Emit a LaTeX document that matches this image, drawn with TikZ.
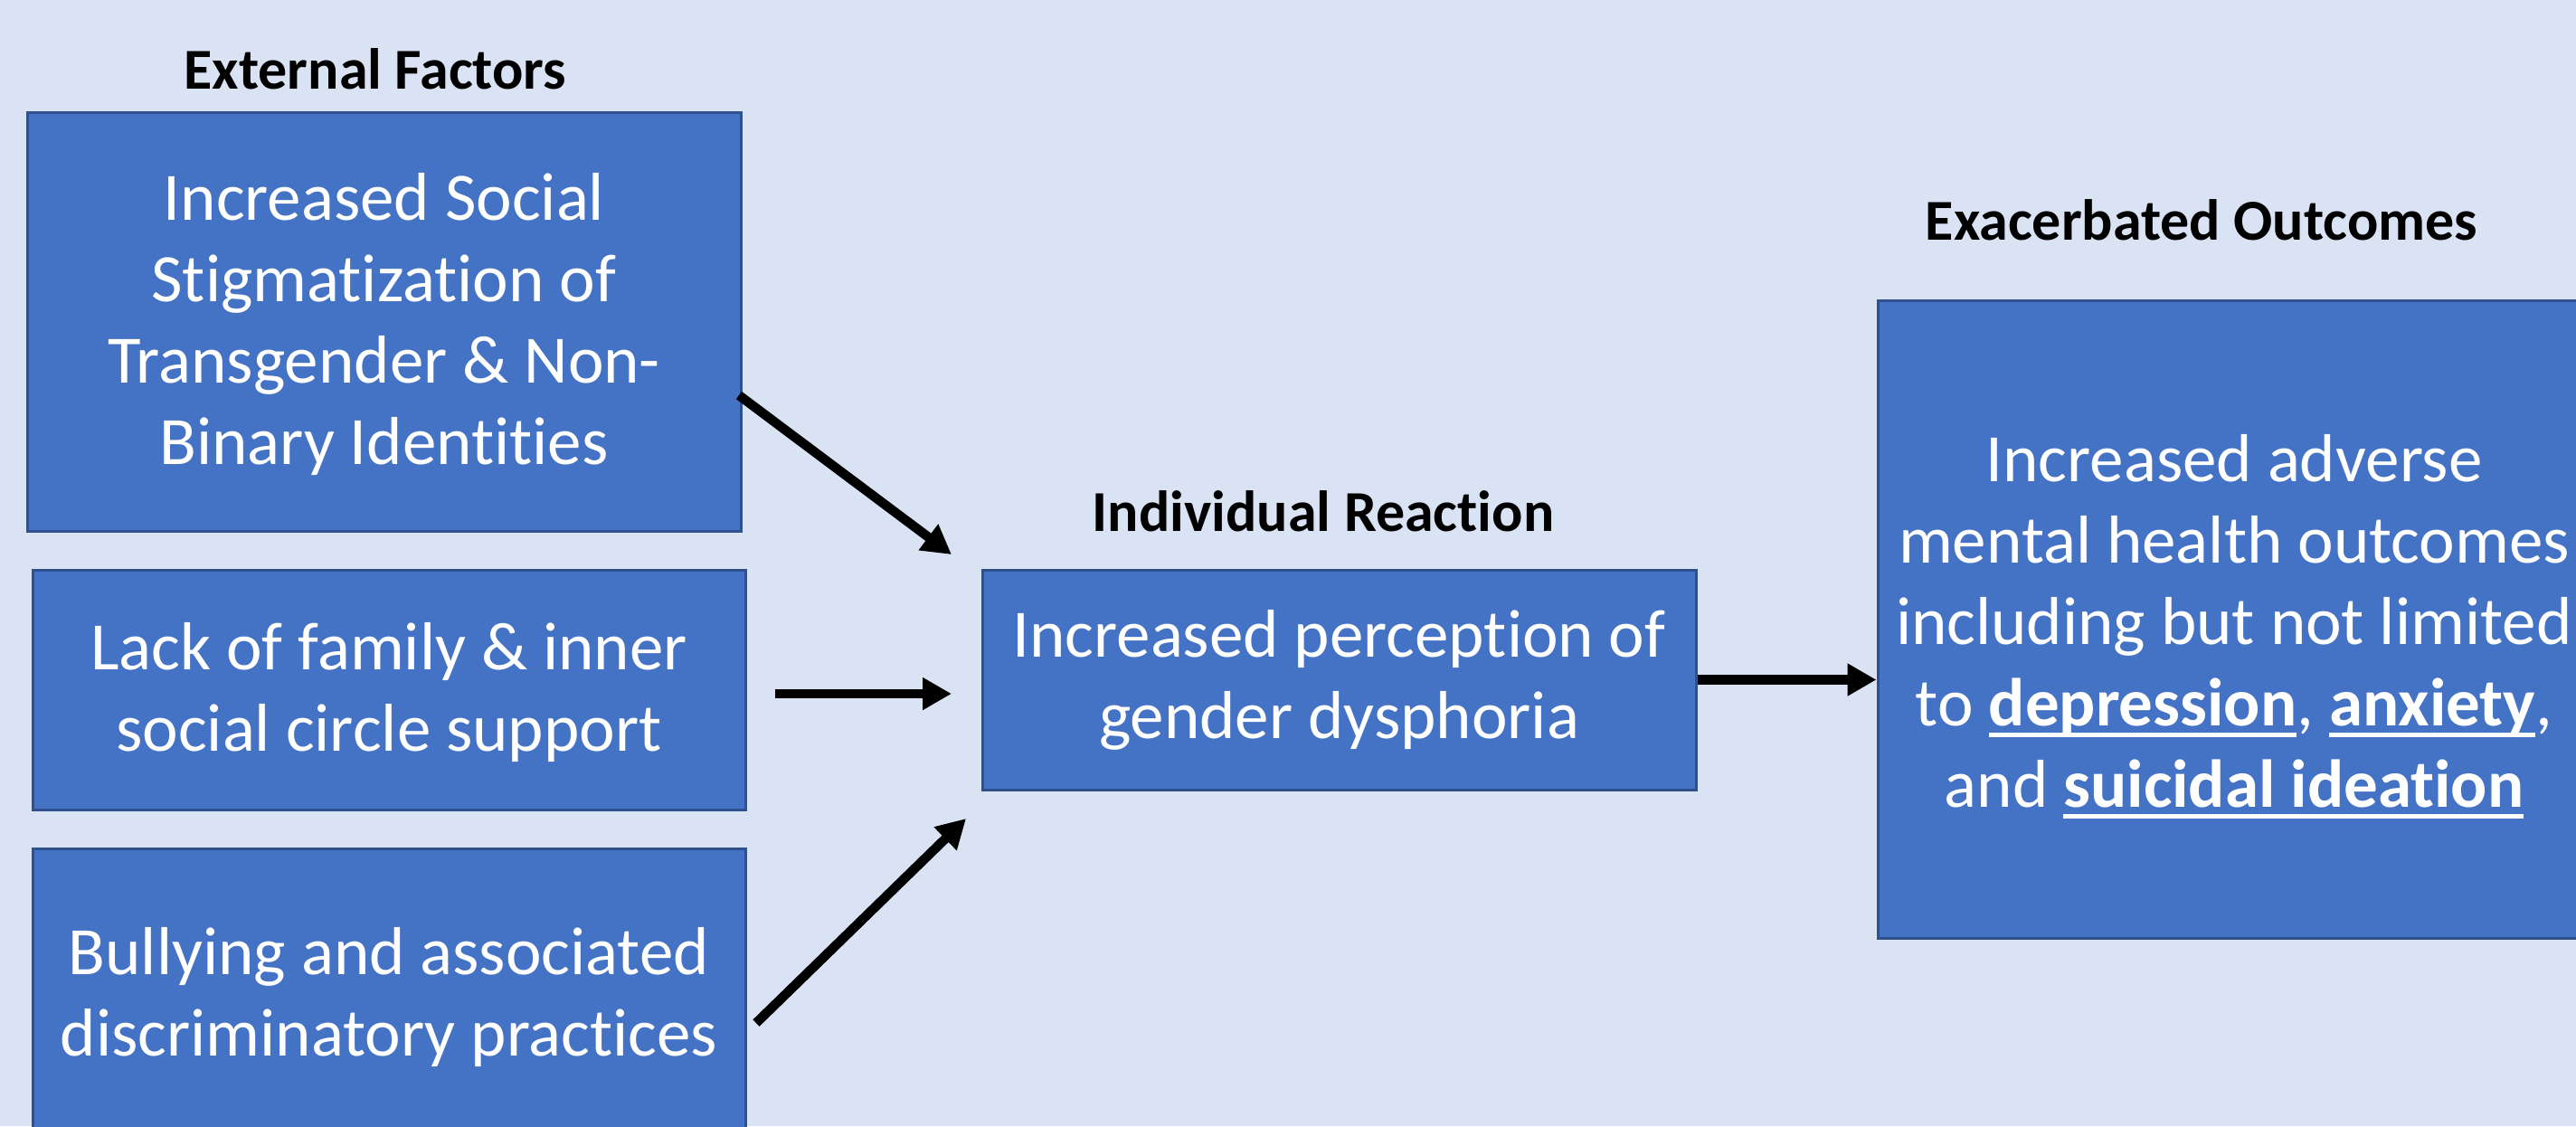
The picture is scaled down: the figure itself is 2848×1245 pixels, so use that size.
\documentclass[tikz,border=0pt]{standalone}
\usepackage{fontspec}
\setmainfont{Carlito}[Ligatures={NoCommon,NoRare}]
\usetikzlibrary{arrows.meta}
\definecolor{bgblue}{HTML}{DAE3F3}
\definecolor{boxblue}{HTML}{4472C4}
\definecolor{boxline}{HTML}{2F528F}
\newcommand\ulbold[1]{\setbox0\hbox{\bfseries #1}\rlap{\rule[-0.16em]{\wd0}{0.06em}}\box0}
\tikzset{
  box/.style={draw=boxline, line width=0.75pt, fill=boxblue, text=white, align=center,
    font=\fontsize{18.75}{22.5}\selectfont, inner sep=0pt},
  title/.style={font=\fontsize{16}{19}\selectfont\bfseries, text=black, inner sep=0pt},
  arr/.style={line width=2.6pt, -{Triangle[length=8pt,width=8.5pt]}}
}
\begin{document}
\begin{tikzpicture}[x=0.25pt,y=-0.25pt]
\clip (0,0) rectangle (2848,1245);
\fill[bgblue] (0,0) rectangle (2848,1245);
\node[title] (t1) at (415,76) {External Factors};
\node[title] (t2) at (1463,565) {Individual Reaction};
\node[title] (t3) at (2434,243) {Exacerbated Outcomes};
\node[box, minimum width=197.25pt, minimum height=115.75pt] (b1) at (424.5,355.5)
  {\rule{0pt}{14.5pt}Increased Social\\Stigmatization of\\Transgender \& Non-\\Binary Identities};
\node[box, minimum width=197pt, minimum height=66.25pt] (b2) at (430,762.5)
  {\rule{0pt}{14.5pt}Lack of family \& inner\\social circle support};
\node[box, minimum width=197pt, minimum height=82pt] (b3) at (430,1102)
  {Bullying and associated\\discriminatory practices};
\node[box, minimum width=197.25pt, minimum height=60.75pt] (m) at (1480.5,751.5)
  {Increased perception of\\gender dysphoria};
\node[box, minimum width=197pt, minimum height=176.25pt] (r) at (2470,684.5)
  {\rule{0pt}{17pt}Increased adverse\\mental health outcomes\\including but not limited\\to \ulbold{depression}, \ulbold{anxiety},\\and \ulbold{suicidal ideation}};
\coordinate (a1s) at (817,437);
\coordinate (a1e) at (1052,613);
\coordinate (a2s) at (857,767);
\coordinate (a2e) at (1052,767);
\coordinate (a3s) at (836,1131);
\coordinate (a3e) at (1068,905);
\draw[arr] (a1s) -- (a1e);
\draw[arr] (a2s) -- (a2e);
\draw[arr] (a3s) -- (a3e);
\draw[arr] (m.east) -- (r.west |- m.east);
\end{tikzpicture}
\end{document}
